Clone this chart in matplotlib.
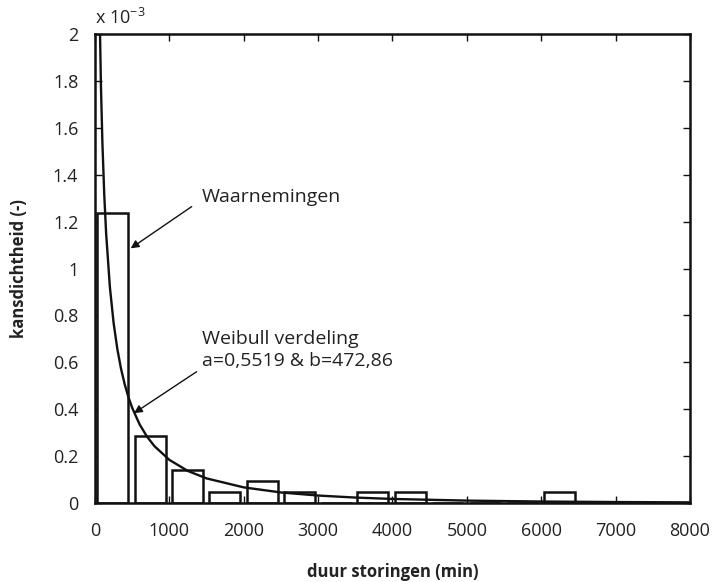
import matplotlib.pyplot as plt
from matplotlib.ticker import FuncFormatter

plt.rcParams['font.family'] = ['Open Sans', 'DejaVu Sans']
plt.rcParams['mathtext.fontset'] = 'custom'
plt.rcParams['mathtext.rm'] = 'Open Sans'

# histogram of observations (density, x 1e-3)
bin_centers = [240, 742, 1244, 1746, 2248, 2750, 3252, 3728, 4238, 4745, 5245, 5745, 6245]
bin_density = [1.238, 0.286, 0.141, 0.045, 0.094, 0.045, 0.0, 0.045, 0.046, 0.0, 0.0, 0.0, 0.048]
bar_width = 415

# Weibull curve (density, x 1e-3)
curve_x = [60, 80, 100, 125, 150, 200, 250, 300, 350, 400, 450, 500, 600, 700, 800,
           1000, 1250, 1500, 2000, 2500, 3000, 3500, 4000, 5000, 6000, 7000, 8000]
curve_y = [2.1375, 1.7783, 1.5320, 1.3112, 1.1484, 0.9215, 0.7685, 0.6574, 0.5726,
           0.5055, 0.4510, 0.4059, 0.3353, 0.2828, 0.2423, 0.1840, 0.1365, 0.1050,
           0.0667, 0.0451, 0.0319, 0.0233, 0.0174, 0.0103, 0.0064, 0.0042, 0.0028]

x_ticks = [0, 1000, 2000, 3000, 4000, 5000, 6000, 7000, 8000]
y_ticks = [0, 0.2, 0.4, 0.6, 0.8, 1.0, 1.2, 1.4, 1.6, 1.8, 2.0]

txt = '#222222'
fig = plt.figure(figsize=(7.18, 5.82), dpi=100)
ax = fig.add_axes([0.1323, 0.1357, 0.8287, 0.8059])

ax.bar(bin_centers, bin_density, width=bar_width, facecolor='white',
       edgecolor='#111111', linewidth=1.8, zorder=2)
ax.plot(curve_x, curve_y, color='#111111', linewidth=1.7, zorder=3)

ax.set_xlim(0, 8000)
ax.set_ylim(0, 2)
ax.set_xticks(x_ticks)
ax.set_yticks(y_ticks)
ax.yaxis.set_major_formatter(FuncFormatter(lambda v, p: f'{v:g}'))
ax.tick_params(direction='in', length=5, width=1, top=True, right=True,
               labelsize=13, colors='#111111', labelcolor=txt)
ax.tick_params(axis='x', pad=14)
ax.tick_params(axis='y', pad=12)
for s in ax.spines.values():
    s.set_linewidth(1.8)
    s.set_color('#111111')

ax.set_xlabel('duur storingen (min)', fontsize=12, fontweight='bold', color=txt, labelpad=16)
ax.set_ylabel('kansdichtheid (-)', fontsize=12, fontweight='bold', color=txt, labelpad=18)

ax.text(0.0, 1.012, r'x 10$^{-3}$', transform=ax.transAxes, fontsize=13,
        color=txt, ha='left', va='bottom')

arrow = dict(arrowstyle='-|>', color='#111111', lw=1.0, mutation_scale=12,
             shrinkA=0, shrinkB=0)
ax.annotate('', xy=(480, 1.086), xytext=(1300, 1.264), arrowprops=arrow, zorder=4)
ax.text(1434, 1.305, 'Waarnemingen', fontsize=14, color=txt, ha='left', va='center')
ax.annotate('', xy=(524, 0.383), xytext=(1367, 0.56), arrowprops=arrow, zorder=4)
ax.text(1434, 0.652, 'Weibull verdeling\na=0,5519 & b=472,86', fontsize=14,
        color=txt, ha='left', va='center', linespacing=1.25)

fig.savefig('out.png', dpi=100)
